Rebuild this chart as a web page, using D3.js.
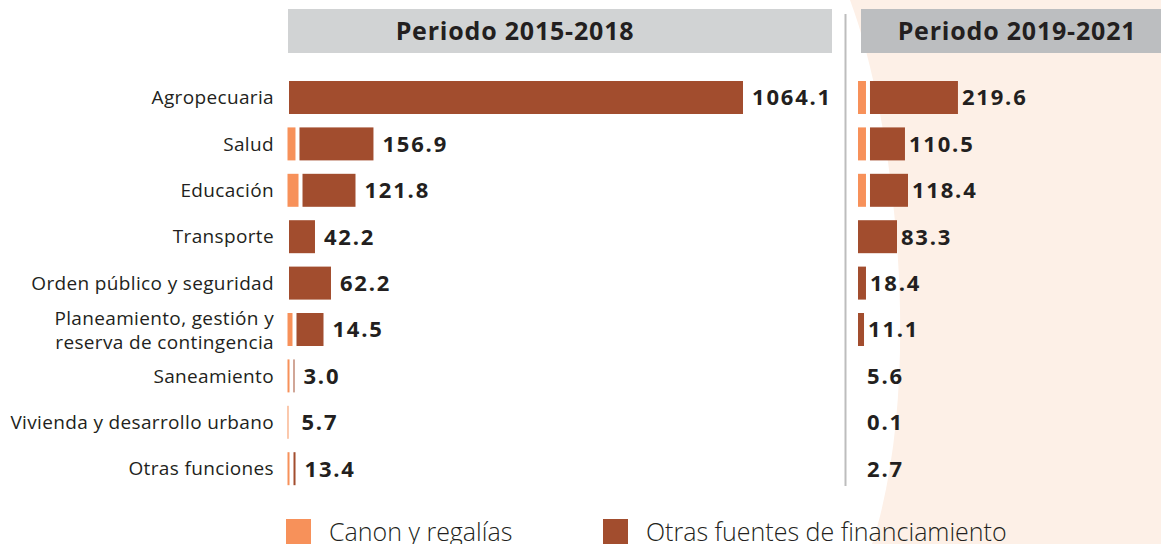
<!DOCTYPE html>
<html>
<head>
<meta charset="utf-8">
<script src="https://cdn.jsdelivr.net/npm/d3@7"></script>
<style>
    body { margin: 0; background: #fff; }
    text { font-family: 'Open Sans', sans-serif; fill: #231F20; }
</style>
</head>
<body>
<div id="chart"></div>
<script>
// Datos
var categorias = [
    'Agropecuaria',
    'Salud',
    'Educación',
    'Transporte',
    'Orden público y seguridad',
    'Planeamiento, gestión y|reserva de contingencia',
    'Saneamiento',
    'Vivienda y desarrollo urbano',
    'Otras funciones'
];
var periodos = ['Periodo 2015-2018', 'Periodo 2019-2021'];
var series = ['Canon y regalías', 'Otras fuentes de financiamiento'];

// longitud de barras
var canon_2015 = [0, 18.7, 25.8, 0, 0, 11.7, 4.7, 2.3, 4.7];
var otras_2015 = [1064.1, 173.4, 124.2, 60.9, 98.4, 63.3, 2.3, 0, 4.7];
var canon_2019 = [18.7, 18.7, 18.7, 0, 0, 0, 0, 0, 0];
var otras_2019 = [206.2, 82.0, 89.1, 91.4, 18.7, 14.1, 0, 0, 0];

// rotulos (total)
var total_2015 = [1064.1, 156.9, 121.8, 42.2, 62.2, 14.5, 3.0, 5.7, 13.4];
var total_2019 = [219.6, 110.5, 118.4, 83.3, 18.4, 11.1, 5.6, 0.1, 2.7];

var chart_width = 1161;
var chart_height = 544;
var color_canon = '#F7915A';
var color_otras = '#A24D2E';

var svg = d3.select('#chart')
    .append('svg')
    .attr('width', chart_width)
    .attr('height', chart_height);

// fondo
svg.append('path')
    .attr('d', 'M850,0 C895,120 925,380 872,544 L1161,544 L1161,0 Z')
    .attr('fill', '#FDF0E7');

// Escalas
var y_scale = d3.scaleBand()
    .domain(categorias)
    .range([67.6, 498.6])
    .paddingInner(0.289)
    .paddingOuter(0.289);

var x_scale = d3.scaleLinear()
    .domain([0, 1064.1])
    .range([0, 454]);

var paneles = [
    { titulo: periodos[0], canon: canon_2015, otras: otras_2015, total: total_2015,
      x0: 287.5, cero: 1.5, gap: 9, min_x: 300, hx: 288, hw: 544, tx: 515, hfill: '#D1D3D4' },
    { titulo: periodos[1], canon: canon_2019, otras: otras_2019, total: total_2019,
      x0: 858, cero: 0, gap: 4, min_x: 867, hx: 861, hw: 300, tx: 1017, hfill: '#BCBEC0' }
];

// linea separadora
svg.append('line')
    .attr('x1', 845.5).attr('x2', 845.5)
    .attr('y1', 14).attr('y2', 486)
    .attr('stroke', '#BDBDBD')
    .attr('stroke-width', 2);

paneles.forEach(function (p) {
    var g = svg.append('g');

    // encabezado
    g.append('rect')
        .attr('x', p.hx).attr('y', 9)
        .attr('width', p.hw).attr('height', 44)
        .attr('fill', p.hfill);
    g.append('text')
        .text(p.titulo)
        .attr('x', p.tx).attr('y', 40)
        .attr('text-anchor', 'middle')
        .attr('font-size', 25)
        .attr('letter-spacing', 0.8)
        .attr('font-weight', 700);

    // barras canon
    g.selectAll('rect.canon')
        .data(categorias)
        .enter()
        .append('rect')
        .attr('class', 'canon')
        .attr('x', p.x0)
        .attr('y', function (d) { return y_scale(d); })
        .attr('width', function (d, i) { return x_scale(p.canon[i]); })
        .attr('height', y_scale.bandwidth())
        .attr('fill', color_canon);

    var inicio = function (i) {
        return p.canon[i] > 0 ? p.x0 + x_scale(p.canon[i]) + 4 : p.x0 + p.cero;
    };
    var fin = function (i) {
        return inicio(i) + x_scale(p.otras[i]);
    };

    // barras otras fuentes
    g.selectAll('rect.otras')
        .data(categorias)
        .enter()
        .append('rect')
        .attr('class', 'otras')
        .attr('x', function (d, i) { return inicio(i); })
        .attr('y', function (d) { return y_scale(d); })
        .attr('width', function (d, i) { return x_scale(p.otras[i]); })
        .attr('height', y_scale.bandwidth())
        .attr('fill', color_otras);

    // rotulos de valores
    g.selectAll('text.valor')
        .data(categorias)
        .enter()
        .append('text')
        .attr('class', 'valor')
        .text(function (d, i) { return p.total[i].toFixed(1); })
        .attr('x', function (d, i) {
            var e = p.canon[i] + p.otras[i] > 0 ? fin(i) : 0;
            return Math.max(e + p.gap, p.min_x);
        })
        .attr('y', function (d) { return y_scale(d) + y_scale.bandwidth() / 2; })
        .attr('dy', '0.36em')
        .attr('font-size', 22)
        .attr('letter-spacing', 1.8)
        .attr('font-weight', 700);
});

// categorias
var cat = svg.selectAll('text.cat')
    .data(categorias)
    .enter()
    .append('text')
    .attr('class', 'cat')
    .attr('text-anchor', 'end')
    .attr('font-size', 19)
    .attr('letter-spacing', 0.35)
    .attr('y', function (d) { return y_scale(d) + y_scale.bandwidth() / 2; });

cat.each(function (d) {
    var lineas = d.split('|');
    var t = d3.select(this);
    lineas.forEach(function (l, j) {
        t.append('tspan')
            .attr('x', 274)
            .attr('dy', j === 0 ? (lineas.length > 1 ? '-0.22em' : '0.35em') : '1.25em')
            .text(l);
    });
});

// Leyenda
var leyenda_x = [286, 603];
var leyenda = svg.selectAll('g.leyenda')
    .data(series)
    .enter()
    .append('g')
    .attr('class', 'leyenda')
    .attr('transform', function (d, i) { return 'translate(' + leyenda_x[i] + ',519)'; });

leyenda.append('rect')
    .attr('width', 25)
    .attr('height', 25)
    .attr('fill', function (d, i) { return i === 0 ? color_canon : color_otras; });

leyenda.append('text')
    .text(function (d) { return d; })
    .attr('x', 43)
    .attr('y', 22)
    .attr('font-size', 25)
    .attr('font-weight', 300);
</script>
</body>
</html>
